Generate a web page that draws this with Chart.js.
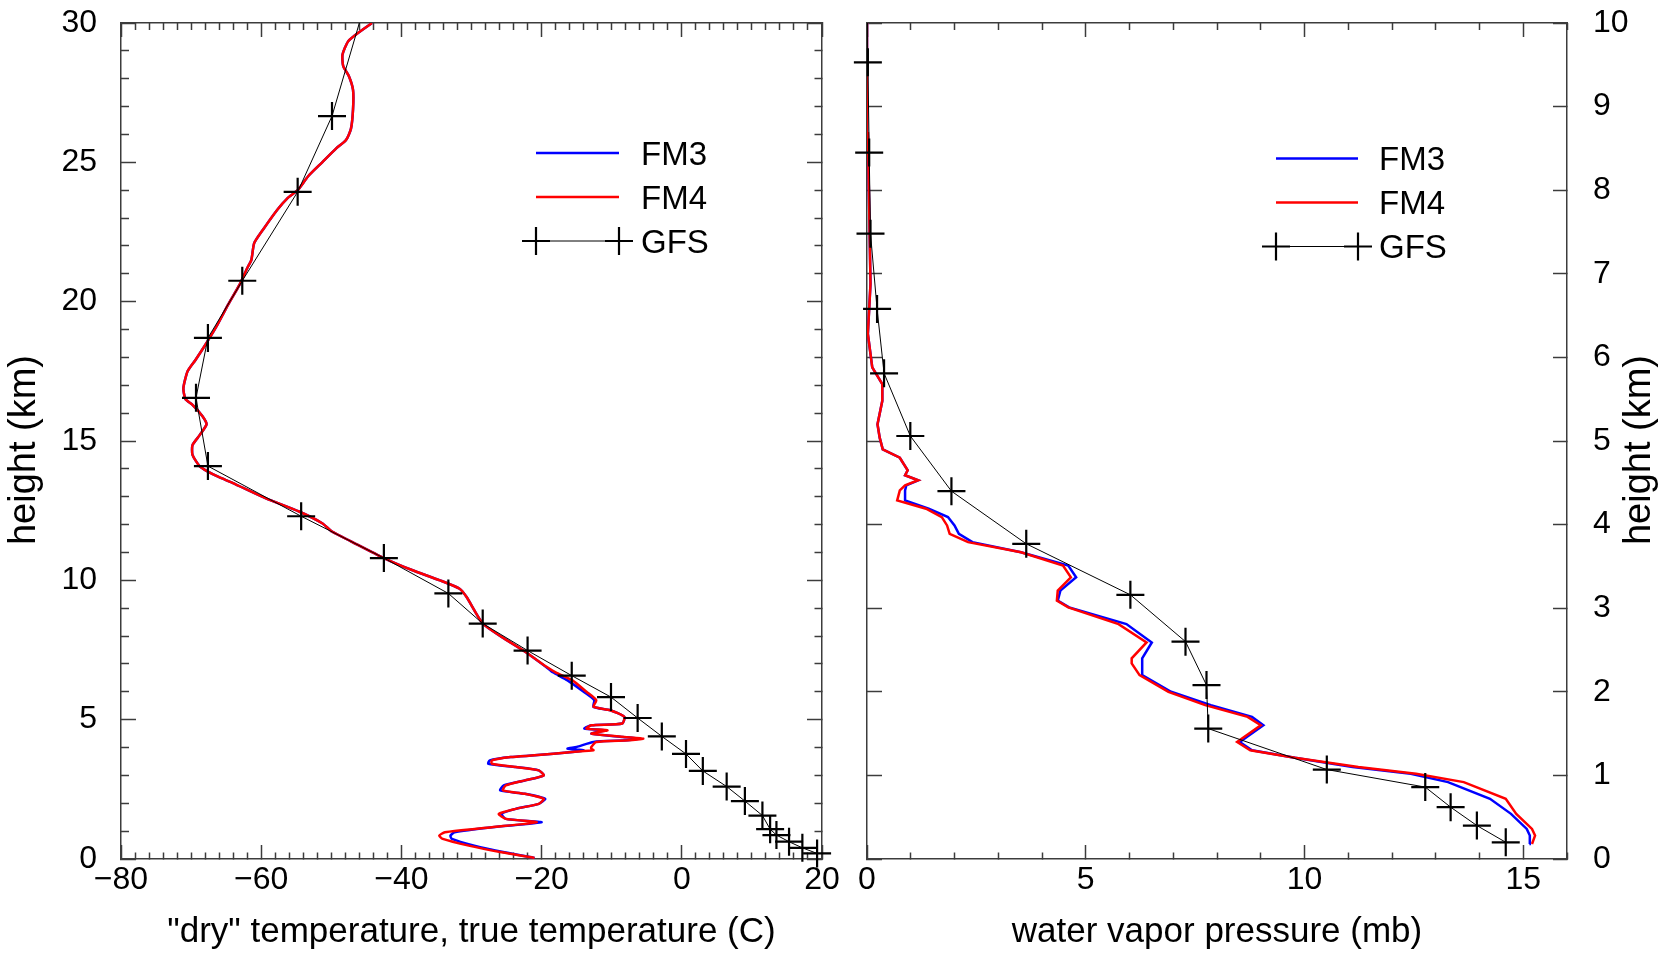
<!DOCTYPE html>
<html>
<head>
<meta charset="utf-8">
<script src="https://cdn.jsdelivr.net/npm/chart.js@4.4.1/dist/chart.umd.min.js"></script>
<style>
    body { margin: 0; background: #fff; overflow: hidden; }
    canvas { position: absolute; top: 0; }
</style>
</head>
<body>
<canvas id="temp-chart" width="840" height="955" style="left:0"></canvas>
<canvas id="vapor-chart" width="819" height="955" style="left:840px"></canvas>
<script>
    // temperature profiles (height km -> deg C)
    var tempHeights = [0.04, 0.24, 0.48, 0.72, 0.84, 0.96, 1.14, 1.32, 1.44, 1.62, 1.80, 1.98, 2.16, 2.34, 2.46, 2.64,
        2.82, 3.00, 3.18, 3.30, 3.42, 3.54, 3.66, 3.72, 3.84, 3.90, 3.96, 4.02, 4.20, 4.26, 4.32, 4.38, 4.50, 4.62,
        4.68, 4.80, 4.86, 5.10, 5.34, 5.46, 5.70, 6.00, 6.41, 6.70, 6.90, 7.43, 7.97, 8.45, 9.40, 9.70, 10.0, 10.37,
        10.8, 11.4, 11.75, 12.05, 12.47, 12.95, 13.5, 13.7, 13.9, 14.1, 14.5, 14.85, 15.2, 15.6, 15.9, 16.3, 16.5,
        16.9, 17.5, 17.9, 18.4, 19.1, 19.9, 20.6, 21.2, 21.5, 22.1, 22.6, 23.3, 23.7, 24.0, 24.5, 25.0, 25.5, 25.8,
        26.2, 26.9, 27.6, 28.1, 28.45, 28.87, 29.34, 29.64, 30.0];
    var fm4Temp = [-21.0, -25.7, -30.4, -34.1, -34.6, -33.8, -27.1, -20.7, -25.1, -26.1, -23.7, -20.4, -19.7, -22.4,
        -25.5, -25.1, -22.4, -19.7, -20.4, -23.7, -27.1, -27.1, -24.4, -21.0, -15.6, -12.6, -12.9, -12.9, -12.2, -7.5,
        -5.5, -8.2, -12.9, -10.6, -13.6, -12.9, -8.5, -8.2, -10.2, -12.6, -12.2, -13.6, -15.6, -18.0, -19.3, -22.3,
        -25.7, -28.4, -30.7, -31.7, -34.5, -38.5, -42.5, -47.2, -49.9, -51.3, -54.6, -59.4, -64.1, -66.0, -67.6,
        -68.8, -69.8, -69.8, -68.8, -67.8, -68.4, -69.8, -70.8, -71.1, -70.5, -69.4, -68.1, -66.4, -64.7, -63.1,
        -62.0, -61.4, -61.0, -59.7, -57.7, -56.3, -54.8, -53.3, -51.3, -49.3, -47.9, -47.2, -46.9, -46.9, -47.5,
        -48.3, -48.4, -47.6, -46.2, -44.2];
    var fm3Temp = [-21.0, -25.3, -29.6, -32.8, -33.0, -32.4, -27.0, -20.0, -25.1, -25.7, -23.7, -20.4, -19.5, -22.4,
        -25.9, -25.4, -22.4, -19.7, -20.4, -23.7, -27.6, -27.4, -24.4, -21.0, -15.6, -14.0, -16.3, -15.0, -12.6, -7.8,
        -6.2, -8.4, -12.9, -11.0, -13.9, -12.9, -8.5, -8.2, -10.2, -12.6, -12.5, -14.0, -16.3, -18.4, -19.4, -22.3,
        -25.7, -28.4, -30.7, -31.7, -34.5, -38.5, -42.5, -47.2, -49.9, -51.3, -54.6, -59.4, -64.1, -66.0, -67.6,
        -68.8, -69.8, -69.8, -68.8, -67.8, -68.4, -69.8, -70.8, -71.1, -70.5, -69.4, -68.1, -66.4, -64.7, -63.1,
        -62.0, -61.4, -61.0, -59.7, -57.7, -56.3, -54.8, -53.3, -51.3, -49.3, -47.9, -47.2, -46.9, -46.9, -47.5,
        -48.3, -48.4, -47.6, -46.2, -44.2];

    // water vapor profiles (height km -> mb)
    var vaporHeights = [0.18, 0.28, 0.36, 0.54, 0.72, 0.92, 1.02, 1.10, 1.21, 1.30, 1.40, 1.60, 1.70, 1.84, 2.00,
        2.20, 2.34, 2.40, 2.59, 2.81, 3.01, 3.09, 3.21, 3.37, 3.51, 3.67, 3.79, 3.89, 3.99, 4.09, 4.19, 4.29, 4.41,
        4.47, 4.53, 4.59, 4.65, 4.80, 4.90, 5.04, 5.20, 5.48, 5.68, 5.88, 6.28, 6.88, 7.48, 8.68, 10.0];
    var fm4Vapor = [15.2, 15.27, 15.2, 14.84, 14.6, 13.64, 12.55, 11.23, 9.78, 8.76, 8.46, 9.0, 8.7, 7.73, 6.89,
        6.23, 6.05, 6.05, 6.39, 5.75, 4.6, 4.34, 4.36, 4.66, 4.48, 3.52, 2.31, 1.89, 1.83, 1.71, 1.35, 0.69, 0.75,
        0.87, 1.17, 0.87, 0.93, 0.75, 0.36, 0.29, 0.24, 0.35, 0.35, 0.12, 0.02, 0.08, 0.06, 0.02, 0.0];
    var fm3Vapor = [15.14, 15.15, 15.08, 14.72, 14.24, 13.28, 12.43, 11.1, 9.78, 8.8, 8.52, 9.06, 8.8, 7.86, 6.95,
        6.29, 6.29, 6.29, 6.51, 5.93, 4.62, 4.36, 4.42, 4.78, 4.6, 3.52, 2.41, 2.1, 2.0, 1.85, 1.41, 0.87, 0.87,
        0.9, 1.17, 0.87, 0.93, 0.75, 0.36, 0.29, 0.24, 0.35, 0.35, 0.12, 0.02, 0.08, 0.06, 0.02, 0.0];

    // GFS levels
    var gfsHeights = [0.2, 0.4, 0.62, 0.86, 1.07, 1.56, 2.08, 2.6, 3.16, 3.77, 4.4, 5.06, 5.81, 6.58, 7.48, 8.45,
        9.53, 10.8, 12.3, 14.1, 16.55, 18.7, 20.75, 23.94, 26.66, 31.2];
    var gfsTemp = [19.3, 17.2, 15.3, 13.5, 12.6, 11.5, 9.0, 6.4, 3.0, 0.6, -2.85, -6.3, -10.1, -15.7, -22.0, -28.4,
        -33.3, -42.5, -54.3, -67.6, -69.3, -67.6, -62.7, -54.8, -49.9, -44.6];
    var gfsVapor = [14.6, 13.94, 13.34, 12.76, 10.51, 7.8, 7.76, 7.28, 6.02, 3.64, 1.93, 0.99, 0.39, 0.23, 0.08,
        0.05, 0.02, 0.01];

    // tick labels
    var tempTickLabels = [-80, -60, -40, -20, 0, 20];
    var vaporTickLabels = [0, 5, 10, 15];
    var tempHeightLabels = [0, 5, 10, 15, 20, 25, 30];
    var vaporHeightLabels = [0, 1, 2, 3, 4, 5, 6, 7, 8, 9, 10];
    var legendLabels = ['FM3', 'FM4', 'GFS'];

    var FONT = "'Liberation Sans', Arial, Helvetica, sans-serif";
    var AXIS_COLOR = '#3c3c3c';

    Chart.defaults.font.family = FONT;
    Chart.defaults.color = '#000';

    function pairs(values, heights){
        return values.map(function(v, i){
            return { x: v, y: heights[i] };
        });
    }

    function fmt(v){
        return v < 0 ? '\u2212' + Math.abs(v) : String(v);
    }

    function inList(list, v){
        return list.some(function(l){ return Math.abs(l - v) < 1e-6; });
    }

    // ticks point into the plot; minor ticks are cut short with a dash pattern
    function boxAxis(o){
        var fromBorder = (o.position === 'bottom' || o.position === 'right');
        return {
            type: 'linear',
            axis: o.axis,
            position: o.position,
            min: o.min,
            max: o.max,
            afterFit: function(s){
                if(o.axis === 'x'){ s.height = o.size; } else { s.width = o.size; }
                // label padding should not push the plot area in
                s.paddingTop = 0;
                s.paddingBottom = 0;
                s.paddingLeft = 0;
                s.paddingRight = 0;
            },
            border: { display: true, color: AXIS_COLOR, width: 1.5 },
            grid: {
                display: true,
                drawOnChartArea: false,
                drawTicks: true,
                tickLength: -o.len,
                tickColor: AXIS_COLOR,
                tickWidth: 1.5,
                tickBorderDash: function(c){
                    if(!c.tick || o.isMajor(c.tick.value)) return [];
                    return fromBorder ? [o.minorLen, 100] : [0, o.len - o.minorLen, o.minorLen, 100];
                }
            },
            ticks: {
                display: !!o.labels,
                autoSkip: false,
                stepSize: o.step,
                maxRotation: 0,
                minRotation: 0,
                padding: o.pad || 0,
                color: '#000',
                font: { size: 32 },
                callback: function(v){
                    return (o.labels && inList(o.labels, v)) ? fmt(v) : '';
                }
            },
            title: o.title || { display: false }
        };
    }

    function lineSet(label, color, data, tension){
        return {
            label: label,
            data: data,
            borderColor: color,
            backgroundColor: color,
            borderWidth: 2.5,
            pointRadius: 0,
            tension: tension,
            fill: false
        };
    }

    function gfsSet(data){
        return {
            label: 'GFS',
            data: data,
            borderColor: '#000',
            backgroundColor: '#000',
            borderWidth: 1,
            pointStyle: 'cross',
            pointRadius: 14,
            pointBorderWidth: 2.2,
            pointBorderColor: '#000',
            tension: 0,
            fill: false,
            clip: { left: 20, right: 20, top: 0, bottom: 20 }
        };
    }

    var lineLegend = {
        id: 'lineLegend',
        afterDraw: function(chart, args, o){
            var ctx = chart.ctx;
            legendLabels.forEach(function(label, i){
                var ds = chart.data.datasets.find(function(d){ return d.label === label; });
                var y = o.y + i * o.dy;
                ctx.save();
                ctx.strokeStyle = ds.borderColor;
                ctx.lineWidth = ds.borderWidth;
                ctx.beginPath();
                ctx.moveTo(o.x0, y);
                ctx.lineTo(o.x1, y);
                ctx.stroke();
                if(ds.pointStyle === 'cross'){
                    var r = ds.pointRadius;
                    ctx.lineWidth = ds.pointBorderWidth;
                    [o.x0, o.x1].forEach(function(cx){
                        ctx.beginPath();
                        ctx.moveTo(cx - r, y);
                        ctx.lineTo(cx + r, y);
                        ctx.moveTo(cx, y - r);
                        ctx.lineTo(cx, y + r);
                        ctx.stroke();
                    });
                }
                ctx.fillStyle = '#000';
                ctx.font = o.size + 'px ' + FONT;
                ctx.textBaseline = 'alphabetic';
                ctx.textAlign = 'left';
                ctx.fillText(label, o.textX, y + o.size * 0.36);
                ctx.restore();
            });
        }
    };

    // vertical axis titles, read bottom to top
    var sideTitle = {
        id: 'sideTitle',
        afterDraw: function(chart, args, o){
            if(!o || !o.text) return;
            var ctx = chart.ctx;
            var area = chart.chartArea;
            ctx.save();
            ctx.translate(o.x, (area.top + area.bottom) / 2 + (o.dy || 0));
            ctx.rotate(-Math.PI / 2);
            ctx.font = o.size + 'px ' + FONT;
            ctx.textAlign = 'center';
            ctx.textBaseline = 'middle';
            ctx.fillStyle = '#000';
            ctx.fillText(o.text, 0, 0);
            ctx.restore();
        }
    };

    function tempMajorX(v){ return inList(tempTickLabels, v); }
    function tempMajorY(v){ return inList(tempHeightLabels, v); }
    function vaporMajorX(v){ return inList(vaporTickLabels, v); }
    function always(){ return true; }

    function initCharts(){
        new Chart(document.getElementById('temp-chart'), {
            type: 'line',
            data: {
                datasets: [
                    gfsSet(pairs(gfsTemp, gfsHeights)),
                    lineSet('FM4', '#ff0000', pairs(fm4Temp, tempHeights), 0.2),
                    lineSet('FM3', '#0000ff', pairs(fm3Temp, tempHeights), 0.2)
                ]
            },
            options: {
                responsive: false,
                animation: false,
                events: [],
                layout: { padding: { left: 0, top: 23, right: 18, bottom: 0 } },
                scales: {
                    x: boxAxis({ axis: 'x', position: 'bottom', min: -80, max: 20, step: 2, len: 14, minorLen: 7,
                        size: 96, pad: 16, labels: tempTickLabels, isMajor: tempMajorX,
                        title: { display: true, text: '"dry" temperature, true temperature (C)', color: '#000',
                            font: { size: 35, lineHeight: 1.2 }, padding: { top: 0, bottom: 2 } } }),
                    x2: boxAxis({ axis: 'x', position: 'top', min: -80, max: 20, step: 2, len: 14, minorLen: 7,
                        size: 0, labels: null, isMajor: tempMajorX }),
                    y: boxAxis({ axis: 'y', position: 'left', min: 0, max: 30, step: 1, len: 15, minorLen: 8,
                        size: 121, pad: 39, labels: tempHeightLabels, isMajor: tempMajorY }),
                    y2: boxAxis({ axis: 'y', position: 'right', min: 0, max: 30, step: 1, len: 15, minorLen: 8,
                        size: 0, labels: null, isMajor: tempMajorY })
                },
                plugins: {
                    legend: { display: false },
                    tooltip: { enabled: false },
                    lineLegend: { x0: 536, x1: 619, textX: 641, y: 153, dy: 44, size: 33 },
                    sideTitle: { text: 'height (km)', x: 25, dy: 9, size: 38 }
                }
            },
            plugins: [lineLegend, sideTitle]
        });

        new Chart(document.getElementById('vapor-chart'), {
            type: 'line',
            data: {
                datasets: [
                    gfsSet(pairs(gfsVapor, gfsHeights)),
                    lineSet('FM4', '#ff0000', pairs(fm4Vapor, vaporHeights), 0),
                    lineSet('FM3', '#0000ff', pairs(fm3Vapor, vaporHeights), 0)
                ]
            },
            options: {
                responsive: false,
                animation: false,
                events: [],
                layout: { padding: { left: 0, top: 23, right: 0, bottom: 0 } },
                scales: {
                    x: boxAxis({ axis: 'x', position: 'bottom', min: 0, max: 16, step: 1, len: 14, minorLen: 7,
                        size: 96, pad: 16, labels: vaporTickLabels, isMajor: vaporMajorX,
                        title: { display: true, text: 'water vapor pressure (mb)', color: '#000',
                            font: { size: 35, lineHeight: 1.2 }, padding: { top: 0, bottom: 2 } } }),
                    x2: boxAxis({ axis: 'x', position: 'top', min: 0, max: 16, step: 1, len: 14, minorLen: 7,
                        size: 0, labels: null, isMajor: vaporMajorX }),
                    y: boxAxis({ axis: 'y', position: 'right', min: 0, max: 10, step: 1, len: 14, minorLen: 14,
                        size: 92, pad: 40, labels: vaporHeightLabels, isMajor: always }),
                    y2: boxAxis({ axis: 'y', position: 'left', min: 0, max: 10, step: 1, len: 15, minorLen: 15,
                        size: 27, labels: null, isMajor: always })
                },
                plugins: {
                    legend: { display: false },
                    tooltip: { enabled: false },
                    lineLegend: { x0: 436, x1: 518, textX: 539, y: 158.5, dy: 44, size: 33 },
                    sideTitle: { text: 'height (km)', x: 800, dy: 9, size: 38 }
                }
            },
            plugins: [lineLegend, sideTitle]
        });
    }

    initCharts();
</script>
</body>
</html>
